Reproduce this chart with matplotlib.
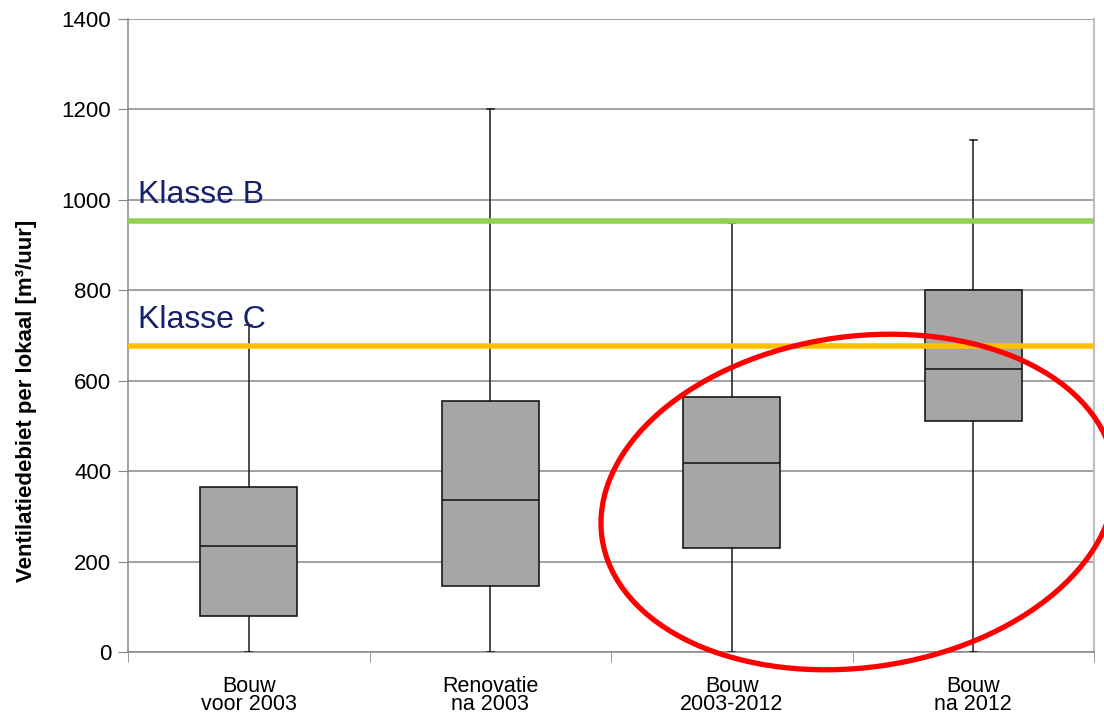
import matplotlib
matplotlib.use("Agg")
import matplotlib.pyplot as plt
from matplotlib.patches import Ellipse
import numpy as np

plt.rcParams["font.family"] = ["Liberation Sans", "DejaVu Sans"]

categories = ["Bouw\nvoor 2003", "Renovatie\nna 2003", "Bouw\n2003-2012", "Bouw\nna 2012"]
whisker_low = [0, 0, 0, 0]
q1 = [80, 145, 229, 511]
median = [234, 336, 418, 625]
q3 = [366, 555, 564, 800]
whisker_high = [723, 1200, 948, 1132]

klasse_names = ["Klasse B", "Klasse C"]
klasse_values = [953, 677]
klasse_colors = ["#92D050", "#FFC000"]

fig = plt.figure(figsize=(11.04, 7.13), dpi=100)
ax = fig.add_axes([128 / 1104, 61 / 713, 966 / 1104, 633 / 713])

stats = []
for i in range(len(categories)):
    stats.append({"whislo": whisker_low[i], "q1": q1[i], "med": median[i],
                  "q3": q3[i], "whishi": whisker_high[i], "fliers": []})

pos = np.arange(1, len(categories) + 1)
ax.bxp(stats, positions=pos, widths=0.4, patch_artist=True, showfliers=False,
       capwidths=0.03,
       boxprops=dict(facecolor="#A6A6A6", edgecolor="#1a1a1a", linewidth=1.2),
       medianprops=dict(color="#1a1a1a", linewidth=1.2),
       whiskerprops=dict(color="#1a1a1a", linewidth=1.1),
       capprops=dict(color="#1a1a1a", linewidth=1.1),
       zorder=3)

for name, val, col in zip(klasse_names, klasse_values, klasse_colors):
    ax.axhline(val, color=col, linewidth=4, zorder=4)
    ax.text(0.0105, val + 40, name, transform=ax.get_yaxis_transform(),
            fontsize=23, color="#17206B", va="baseline", ha="left", zorder=5)

ax.set_xlim(0.5, len(categories) + 0.5)
ax.set_ylim(0, 1400)
ax.set_yticks(np.arange(0, 1401, 200))
ax.yaxis.grid(True, color="#878787", linewidth=1.1)
ax.set_axisbelow(True)

ax.set_xticks(pos)
ax.set_xticklabels(categories, fontsize=15.5, linespacing=0.85)
ax.set_xticks(np.arange(0.5, len(categories) + 1, 1), minor=True)
ax.tick_params(axis="x", which="major", length=0, pad=17)
ax.tick_params(axis="x", which="minor", length=7, color="#878787")
ax.tick_params(axis="y", length=7, color="#878787", labelsize=16, pad=5)

for s in ["left", "bottom"]:
    ax.spines[s].set_color("#878787")
    ax.spines[s].set_linewidth(1.1)
ax.spines["top"].set_visible(False)
ax.spines["right"].set_color("#BFBFBF")
ax.spines["right"].set_linewidth(1.5)

ax.set_ylabel("Ventilatiedebiet per lokaal [m³/uur]", fontsize=16, fontweight="bold")
ax.yaxis.set_label_coords(-0.094, 0.397)

# red ellipse annotation
ell = Ellipse((8.58, 2.11), 5.17, 3.31, angle=8, fill=False, edgecolor="#FF0000",
              linewidth=3.8, transform=fig.dpi_scale_trans, clip_on=False, zorder=10)
fig.patches.append(ell)

fig.savefig("out.png", dpi=100)
